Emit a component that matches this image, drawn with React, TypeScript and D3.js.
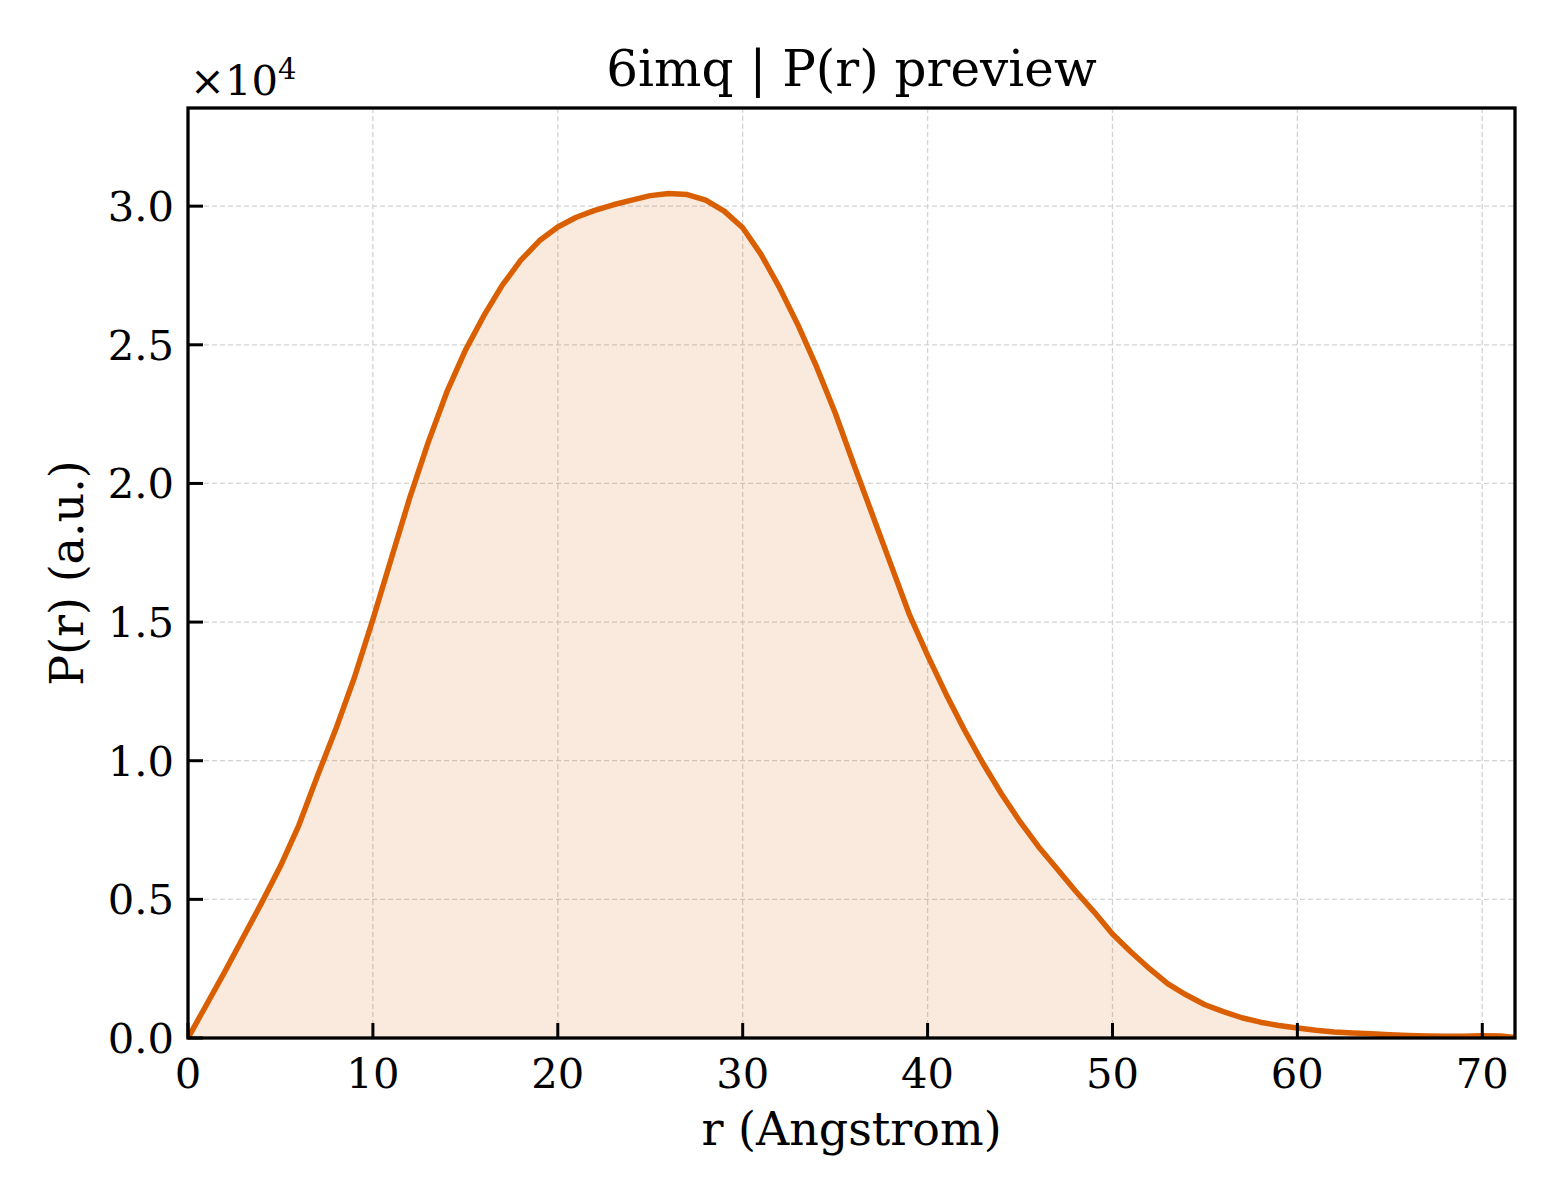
import React from "react";
import * as d3 from "d3";

const rValues: number[] = [
  0, 1, 2, 3, 4, 5, 6, 7, 8, 9, 10, 11, 12, 13, 14, 15, 16, 17, 18, 19, 20,
  21, 22, 23, 24, 25, 26, 27, 28, 29, 30, 31, 32, 33, 34, 35, 36, 37, 38, 39, 40,
  41, 42, 43, 44, 45, 46, 47, 48, 49, 50, 51, 52, 53, 54, 55, 56, 57, 58, 59, 60,
  61, 62, 63, 64, 65, 66, 67, 68, 69, 70, 71, 71.77,
];
const prValues: number[] = [
  0, 1200, 2400, 3650, 4900, 6200, 7680, 9450, 11150, 13000, 15100,
  17300, 19500, 21500, 23300, 24800, 26050, 27150, 28050, 28750, 29250,
  29600, 29850, 30050, 30220, 30380, 30460, 30420, 30220, 29820, 29220,
  28250, 27050, 25700, 24200, 22550, 20700, 18900, 17100, 15300, 13800,
  12400, 11100, 9900, 8800, 7800, 6900, 6100, 5300, 4550, 3750,
  3100, 2500, 1950, 1550, 1200, 950, 730, 570, 450, 360,
  280, 220, 180, 150, 120, 90, 70, 60, 60, 80, 70, 20,
];
const xTicks: number[] = [0, 10, 20, 30, 40, 50, 60, 70];
const yTicks: number[] = [0, 5000, 10000, 15000, 20000, 25000, 30000];
const titleText = "6imq | P(r) preview";
const xLabel = "r (Angstrom)";
const yLabel = "P(r) (a.u.)";

const W = 1560;
const H = 1200;
const L = 188;
const R = 1515;
const T = 108;
const B = 1038;
const FONT = "'DejaVu Serif', serif";
const LINE = "#d95f02";

export default function App() {
  const x = d3.scaleLinear().domain([0, 71.77]).range([L, R]);
  const y = d3.scaleLinear().domain([0, 33540]).range([B, T]);
  const pts = rValues.map((r, i) => [r, prValues[i]] as [number, number]);
  const line = d3
    .line<[number, number]>()
    .x((d) => x(d[0]))
    .y((d) => y(d[1]));
  const area = d3
    .area<[number, number]>()
    .x((d) => x(d[0]))
    .y0(y(0))
    .y1((d) => y(d[1]));

  return (
    <svg
      width={W}
      height={H}
      viewBox={`0 0 ${W} ${H}`}
      style={{ display: "block", position: "absolute", left: 0, top: 0, background: "#fff" }}
      fontFamily={FONT}
    >
      <rect x={0} y={0} width={W} height={H} fill="#fff" />
      <defs>
        <clipPath id="plotclip">
          <rect x={L} y={T} width={R - L} height={B - T} />
        </clipPath>
      </defs>
      <g stroke="#cfcfcf" strokeWidth={1.3} strokeDasharray="5,3" opacity={0.9}>
        {xTicks.map((t) => (
          <line key={"gx" + t} x1={x(t)} x2={x(t)} y1={T} y2={B} />
        ))}
        {yTicks.map((t) => (
          <line key={"gy" + t} x1={L} x2={R} y1={y(t)} y2={y(t)} />
        ))}
      </g>
      <g clipPath="url(#plotclip)">
        <path d={area(pts) || ""} fill={LINE} fillOpacity={0.13} stroke="none" />
        <path d={line(pts) || ""} fill="none" stroke={LINE} strokeWidth={5.5} strokeLinejoin="round" />
      </g>
      <g stroke="#000" strokeWidth={3}>
        {xTicks.map((t) => (
          <line key={"tx" + t} x1={x(t)} x2={x(t)} y1={B} y2={B - 15} />
        ))}
        {yTicks.map((t) => (
          <line key={"ty" + t} x1={L} x2={L + 15} y1={y(t)} y2={y(t)} />
        ))}
      </g>
      <rect x={L} y={T} width={R - L} height={B - T} fill="none" stroke="#000" strokeWidth={3.3} />
      <g fontSize={41.7} fill="#000">
        {xTicks.map((t) => (
          <text key={"lx" + t} x={x(t)} y={B + 50} textAnchor="middle">
            {String(t)}
          </text>
        ))}
        {yTicks.map((t) => (
          <text key={"ly" + t} x={L - 14} y={y(t) + 15} textAnchor="end">
            {(t / 10000).toFixed(1)}
          </text>
        ))}
      </g>
      <text x={L + 2} y={95} fontSize={41.7}>
        ×10
        <tspan fontSize={29} dy={-16}>4</tspan>
      </text>
      <text x={(L + R) / 2} y={86} fontSize={50} textAnchor="middle">
        {titleText}
      </text>
      <text x={(L + R) / 2} y={1145} fontSize={46} textAnchor="middle">
        {xLabel}
      </text>
      <text
        transform={`translate(83, ${(T + B) / 2}) rotate(-90)`}
        fontSize={46}
        textAnchor="middle"
      >
        {yLabel}
      </text>
    </svg>
  );
}
